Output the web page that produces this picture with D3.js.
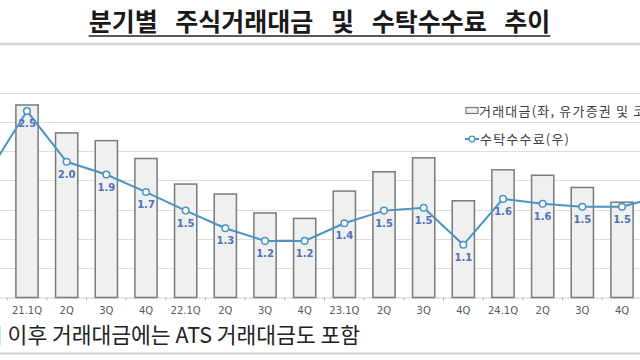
<!DOCTYPE html>
<html><head><meta charset="utf-8">
<script src="https://cdn.jsdelivr.net/npm/d3@7"></script>
<style>
html,body{margin:0;padding:0;background:#fff;}
svg{display:block;}
</style></head>
<body>
<svg id="c" width="640" height="360"></svg>
<script>
// ---- data ----
const categories = ["20.4Q","21.1Q","2Q","3Q","4Q","22.1Q","2Q ","3Q ","4Q ","23.1Q","2Q  ","3Q  ","4Q  ","24.1Q","2Q   ","3Q   ","4Q   ","25.1Q"];
const tickLabels = ["20.4Q","21.1Q","2Q","3Q","4Q","22.1Q","2Q","3Q","4Q","23.1Q","2Q","3Q","4Q","24.1Q","2Q","3Q","4Q","25.1Q"];
// 거래대금 (left axis, bars) – null where the bar lies outside the picture
const tradingValue = [null,1972,1686,1607,1424,1162,1060,866,810,1090,1288,1431,991,1308,1252,1127,976,null];
// 수탁수수료 (right axis, line)
const commission = [1.86,2.51,1.99,1.86,1.68,1.49,1.31,1.18,1.18,1.36,1.49,1.52,1.14,1.61,1.56,1.53,1.53,1.64];
const visibleLabel = [false,true,true,true,true,true,true,true,true,true,true,true,true,true,true,true,true,false];
const leftTicks = [0,300,600,900,1200,1500,1800,2100];
const titleText = "분기별 주식거래대금 및 수탁수수료 추이";
const noteText = "시 이후 거래대금에는 ATS 거래대금도 포함";
const legendLabels = ["거래대금(좌, 유가증권 및 코스닥)","수탁수수료(우)"];

const svg = d3.select("#c");
const W = 640, H = 360;
const yBase = 297.5, yTop = 92.5;

const x = d3.scaleBand().domain(categories).range([-32.5, 681.5]).paddingInner(0.44).paddingOuter(0.22);
const yL = d3.scaleLinear().domain([0,2100]).range([yBase, yTop]);
const yR = d3.scaleLinear().domain([0.6,2.7]).range([yBase, yTop]);

// title
const title = svg.append("text").attr("x",319.5).attr("y",31)
  .attr("text-anchor","middle")
  .style("font-family","'Noto Sans CJK KR'").style("font-weight","700")
  .style("font-size","25px").style("word-spacing","12px").attr("fill","#1a1a1a")
  .text(titleText);
const tb = title.node().getBBox();
svg.append("line").attr("x1",tb.x).attr("x2",tb.x+tb.width).attr("y1",36).attr("y2",36)
  .attr("stroke","#222").attr("stroke-width",1.5);
svg.append("line").attr("x1",0).attr("x2",W).attr("y1",44).attr("y2",44)
  .attr("stroke","#d4d4d4").attr("stroke-width",2.5);

// gridlines
svg.append("g").selectAll("line").data(leftTicks.slice(1)).join("line")
  .attr("x1",0).attr("x2",W)
  .attr("y1",d=>Math.round(yL(d))+0.5).attr("y2",d=>Math.round(yL(d))+0.5)
  .attr("stroke","#dedede").attr("stroke-width",1);

// x axis
const xAxis = d3.axisBottom(x).tickSize(0).tickFormat((d,i)=>visibleLabel[i]?tickLabels[i]:"");
const gx = svg.append("g").attr("transform",`translate(0,${yBase})`).call(xAxis);
gx.select(".domain").attr("stroke","#d0d0d0");
gx.selectAll("text").attr("dy",null).attr("y",16).attr("fill","#595959")
  .style("font-family","'DejaVu Sans'").style("font-size","10px");
// small ticks at band boundaries
svg.append("g").selectAll("line").data(categories).join("line")
  .attr("x1",d=>x(d)-x.step()*x.paddingInner()/2).attr("x2",d=>x(d)-x.step()*x.paddingInner()/2)
  .attr("y1",yBase).attr("y2",yBase+3).attr("stroke","#b0b0b0");

// bars
const barData = categories.map((c,i)=>({c, v:tradingValue[i]})).filter(d=>d.v!=null);
svg.append("g").selectAll("rect").data(barData).join("rect")
  .attr("x",d=>x(d.c)).attr("width",x.bandwidth())
  .attr("y",d=>yL(d.v)).attr("height",d=>yBase-yL(d.v))
  .attr("fill","#f0f0f0").attr("stroke","#7a7a7a").attr("stroke-width",1.5);

// line
const lineData = categories.map((c,i)=>({c, v:commission[i]}));
const line = d3.line().x(d=>x(d.c)+x.bandwidth()/2).y(d=>yR(d.v));
svg.append("path").datum(lineData).attr("d",line)
  .attr("fill","none").attr("stroke","#4a93c3").attr("stroke-width",2);
svg.append("g").selectAll("circle").data(lineData).join("circle")
  .attr("cx",d=>x(d.c)+x.bandwidth()/2).attr("cy",d=>yR(d.v)).attr("r",3.3)
  .attr("fill","#fff").attr("stroke","#4a93c3").attr("stroke-width",1.5);
svg.append("g").selectAll("text").data(lineData.filter((d,i)=>visibleLabel[i])).join("text")
  .attr("x",d=>x(d.c)+x.bandwidth()/2).attr("y",d=>yR(d.v)+16)
  .attr("text-anchor","middle").attr("fill","#5271b8")
  .style("font-family","'DejaVu Sans'").style("font-weight","700").style("font-size","10px")
  .text(d=>d.v.toFixed(1));

// legend
const lg = svg.append("g");
lg.append("rect").attr("x",466).attr("y",107.5).attr("width",12).attr("height",6)
  .attr("fill","#f0f0f0").attr("stroke","#7a7a7a").attr("stroke-width",1.2);
lg.append("text").attr("x",479).attr("y",115.5).text(legendLabels[0]);
lg.append("line").attr("x1",465).attr("x2",479).attr("y1",139).attr("y2",139)
  .attr("stroke","#4a93c3").attr("stroke-width",2);
lg.append("circle").attr("cx",472).attr("cy",139).attr("r",2.8)
  .attr("fill","#fff").attr("stroke","#4a93c3").attr("stroke-width",1.3);
lg.append("text").attr("x",480).attr("y",143.5).text(legendLabels[1]);
lg.selectAll("text").attr("fill","#404040")
  .style("font-family","'Noto Sans CJK KR'").style("font-size","13px").style("letter-spacing","1.2px");

// note
svg.append("text").attr("x",-17).attr("y",343)
  .style("font-family","'Noto Sans CJK KR'").style("font-size","21.5px").attr("fill","#222")
  .text(noteText);
svg.append("line").attr("x1",0).attr("x2",W).attr("y1",353.5).attr("y2",353.5)
  .attr("stroke","#cfcfcf").attr("stroke-width",2);
</script>
</body></html>
